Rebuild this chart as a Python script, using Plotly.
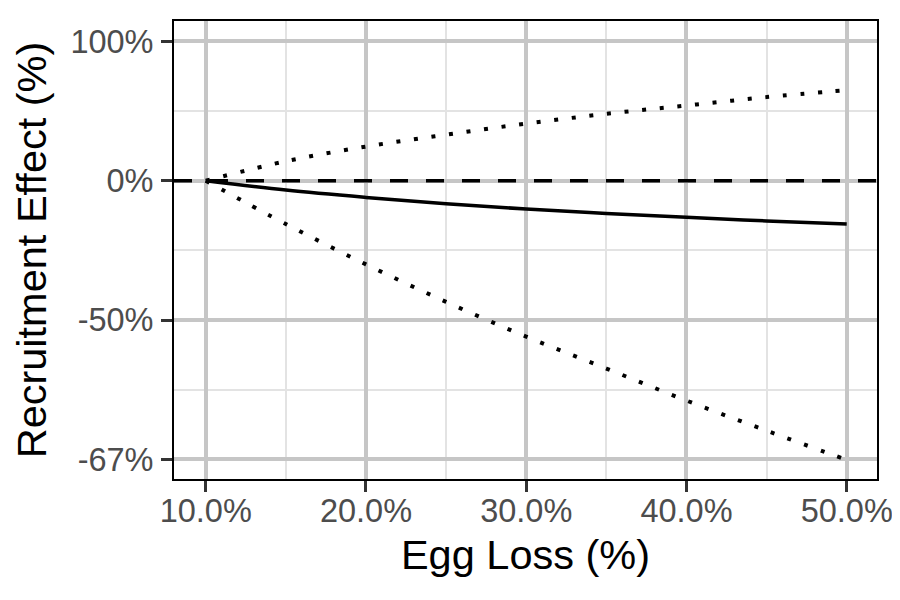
import plotly.graph_objects as go

# Data
egg_loss = [10, 15, 20, 25, 30, 35, 40, 45, 50]            # Egg Loss (%)
effect_mid = [0, -6.3, -10.7, -14.2, -16.9, -19.0, -20.8, -22.4, -23.7]   # Recruitment effect (%)
effect_hi = [0, 14.0, 24.5, 33.0, 41.0, 48.0, 54.0, 60.0, 65.0]
effect_lo = [0, -23.7, -37.5, -46.5, -52.8, -57.4, -61.2, -64.2, -66.7]

x_ticks = [10, 20, 30, 40, 50]
x_tick_labels = ["10.0%", "20.0%", "30.0%", "40.0%", "50.0%"]
x_minor = [15, 25, 35, 45]
y_tick_pct = [100, 0, -50, -200 / 3]
y_tick_labels = ["100%", "0%", "-50%", "-67%"]
y_minor_pct = [50, -100 / 3, -60]


def fold(e):
    """Symmetric fold-change scale: +100% -> 1, -50% -> -1, -67% -> -2."""
    r = 1 + e / 100.0
    return r - 1 if r >= 1 else 1 - 1 / r


def tf(vals):
    return [fold(v) for v in vals]


FONT = "Liberation Sans, Arial, sans-serif"

fig = go.Figure()
fig.add_trace(go.Scatter(x=egg_loss, y=tf(effect_hi), mode="lines", line_shape="spline",
                         line=dict(color="black", width=4, dash="4px,13.7px"), showlegend=False))
fig.add_trace(go.Scatter(x=egg_loss, y=tf(effect_lo), mode="lines", line_shape="spline",
                         line=dict(color="black", width=4, dash="4px,13.7px"), showlegend=False))
fig.add_trace(go.Scatter(x=egg_loss, y=tf(effect_mid), mode="lines", line_shape="spline",
                         line=dict(color="black", width=3.5), showlegend=False))

fig.add_shape(type="line", xref="paper", x0=0, x1=1, yref="y", y0=0, y1=0,
              line=dict(color="black", width=3.5, dash="18px,18px"), layer="above")

axis_common = dict(
    showline=True, linecolor="black", linewidth=2, mirror=True,
    ticks="outside", ticklen=11, tickwidth=3, tickcolor="#333333",
    tickfont=dict(family=FONT, size=32.5, color="#4d4d4d"),
    showgrid=True, gridcolor="#c6c6c6", gridwidth=3.5,
    zeroline=False,
)

fig.update_layout(
    width=900, height=600,
    paper_bgcolor="white", plot_bgcolor="white",
    margin=dict(l=166, r=31, t=13, b=129),
    font=dict(family=FONT, color="black"),
    xaxis=dict(
        range=[8.02, 51.89], tickvals=x_ticks, ticktext=x_tick_labels,
        minor=dict(tickvals=x_minor, showgrid=True, gridcolor="#e3e3e3", gridwidth=2),
        title=dict(text="Egg Loss (%)", font=dict(family=FONT, size=41.5, color="black"), standoff=12),
        ticklabelstandoff=-9,
        **axis_common,
    ),
    yaxis=dict(
        range=[-2.140, 1.146], tickvals=tf(y_tick_pct), ticktext=y_tick_labels,
        minor=dict(tickvals=tf(y_minor_pct), showgrid=True, gridcolor="#e3e3e3", gridwidth=2),
        title=dict(text="Recruitment Effect (%)", font=dict(family=FONT, size=41.5, color="black"), standoff=12),
        ticklabelstandoff=1,
        **axis_common,
    ),
)

fig.write_html("out.html")
